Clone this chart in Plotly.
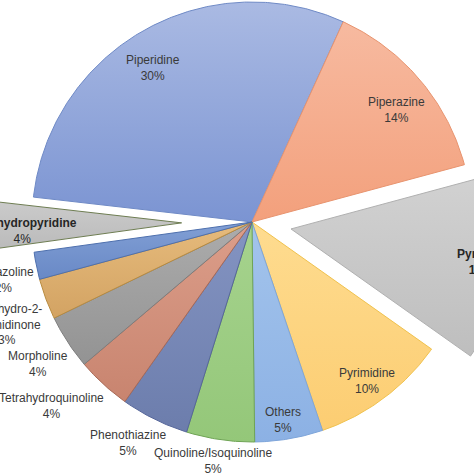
import math
import plotly.graph_objects as go

# ---- data ----
categories = ["Piperidine", "Piperazine", "Pyridine", "Pyrimidine", "Others",
              "Quinoline/Isoquinoline", "Phenothiazine", "Tetrahydroquinoline",
              "Morpholine", "Tetrahydro-2-pyrimidinone", "Imidazoline",
              "Tetrahydropyridine"]
values = [30, 14, 14, 10, 5, 5, 5, 4, 4, 3, 2, 4]
display_names = ["Piperidine", "Piperazine", "Pyridine", "Pyrimidine", "Others",
                 "Quinoline/Isoquinoline", "Phenothiazine", "Tetrahydroquinoline",
                 "Morpholine", "Tetrahydro-2-<br>pyrimidinone", "Imidazoline",
                 "Tetrahydropyridine"]

# ---- styles ----
light = ["#aabae3", "#f7baa0", "#d2d2d2", "#fedc90", "#a3c4ec", "#a6d38e",
         "#8494c2", "#dc9e8a", "#acacac", "#e6bb7c", "#819fd5", "#cccccc"]
dark = ["#7b94d2", "#f3a07c", "#bebebe", "#fccd72", "#8cb1e4", "#94c779",
        "#6c7dac", "#c8846f", "#939393", "#d3a363", "#6989c6", "#b9b9b9"]
edge = ["#6f8ac6", "#e8946f", "#b0b0b0", "#f0c24e", "#7ea5da", "#6fa455",
        "#56669a", "#a86a57", "#7d7d7d", "#b98c40", "#4e70ae", "#6e7d52"]
pull = [0, 0, 0.18, 0, 0, 0, 0, 0, 0, 0, 0, 0.32]
bold_name = [False, False, True, False, False, False, False, False, False, False, False, True]
bold_pct = [False, False, True, False, False, False, False, False, False, False, False, False]
label_r = [0.832, 0.833, 0.877, 0.893, 0.91, 1.10, 1.152, 1.239, 1.167, 1.212, 1.158, 0.722]
label_da = [-3.2, 2.6, -0.2, 0.8, 0.7, 1.0, 3.0, 5.0, -0.5, -2.2, -1.7, -2.2]
rotation = -83.5  # start angle (deg, clockwise from top)

R = 1.0
x_range = [-1.1455, 1.0091]
y_range = [-1.1455, 1.0091]


def to_paper(v, rng):
    return (v - rng[0]) / (rng[1] - rng[0])


total = sum(values)
fig = go.Figure()
annotations = []
start = rotation
for i, v in enumerate(values):
    span = 360.0 * v / total
    a0, a1 = start, start + span
    mid = (a0 + a1) / 2
    ox = pull[i] * R * math.sin(math.radians(mid))
    oy = pull[i] * R * math.cos(math.radians(mid))
    n = max(8, int(span * 2))
    xs, ys = [ox], [oy]
    for k in range(n + 1):
        t = math.radians(a0 + span * k / n)
        xs.append(ox + R * math.sin(t))
        ys.append(oy + R * math.cos(t))
    xs.append(ox)
    ys.append(oy)
    fig.add_trace(go.Scatter(
        x=xs, y=ys, mode="lines", fill="toself",
        fillgradient=dict(type="vertical", colorscale=[[0, dark[i]], [1, light[i]]]),
        line=dict(color=edge[i], width=1),
        name=categories[i], hoverinfo="name", showlegend=False))
    la = math.radians(mid + label_da[i])
    lx = ox + label_r[i] * R * math.sin(la)
    ly = oy + label_r[i] * R * math.cos(la)
    pct = f"{round(100 * v / total)}%"
    name_txt = f"<b>{display_names[i]}</b>" if bold_name[i] else display_names[i]
    pct_txt = f"<b>{pct}</b>" if bold_pct[i] else pct
    annotations.append(dict(
        x=to_paper(lx, x_range), y=to_paper(ly, y_range),
        xref="paper", yref="paper", text=f"{name_txt}<br>{pct_txt}", showarrow=False,
        font=dict(family="Liberation Sans, Arial, sans-serif", size=12,
                  color="#262626" if bold_name[i] else "#3a3a3a"),
        align="center", xanchor="center", yanchor="middle"))
    start = a1

fig.update_layout(
    width=474, height=474,
    margin=dict(l=0, r=0, t=0, b=0),
    paper_bgcolor="white", plot_bgcolor="white",
    xaxis=dict(range=x_range, visible=False, fixedrange=True),
    yaxis=dict(range=y_range, visible=False, fixedrange=True),
    annotations=annotations,
    showlegend=False,
)
fig.write_html("out.html")
